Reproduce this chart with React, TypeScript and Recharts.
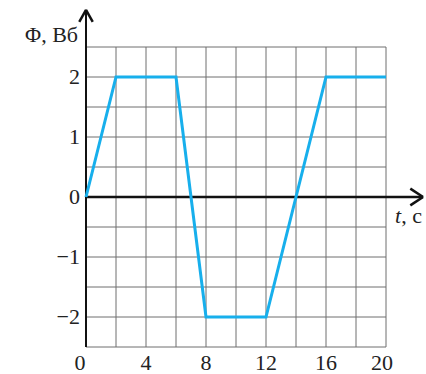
import React from "react";
import { LineChart, Line, XAxis, YAxis, ReferenceLine, ReferenceDot } from "recharts";

const times = [0, 2, 6, 8, 12, 16, 20];
const flux = [0, 2, 2, -2, -2, 2, 2];
const xTicks = [0, 4, 8, 12, 16, 20];
const yTicks = [-2, -1, 0, 1, 2];
const xGrid = [2, 4, 6, 8, 10, 12, 14, 16, 18, 20];
const yGrid = [-2.5, -2, -1.5, -1, -0.5, 0.5, 1, 1.5, 2, 2.5];
const yLabel = "Φ, Вб";
const xLabelT = "t";
const xLabelUnit = ", c";

const data = times.map((t, i) => ({ t, f: flux[i] }));

const FONT = "'Liberation Serif', 'DejaVu Serif', serif";
const GRID = "#6f6f6f";

// axis extents (data units) for arrows
const Y_TOP = 3.12;
const X_END = 22.47;

const XTick = (p: any) => {
  const v = p.payload.value;
  const shift = v === 0 ? -6 : v === 20 ? -4 : 0;
  return (
    <text x={p.x + shift} y={p.y} dy={15} textAnchor="middle" fontFamily={FONT} fontSize={22} fill="#222">
      {v}
    </text>
  );
};

const YTick = (p: any) => {
  const v = p.payload.value;
  const s = v < 0 ? "\u2212" + Math.abs(v) : String(v);
  return (
    <text x={p.x} y={p.y} dy={7} textAnchor="end" fontFamily={FONT} fontSize={22} fill="#222">
      {s}
    </text>
  );
};

export default function App() {
  return (
    <div style={{ position: "absolute", left: 0, top: 0 }}>
      <LineChart width={426} height={374} data={data} margin={{ top: 47, right: 40, bottom: 0, left: 0 }}>
        <XAxis
          dataKey="t"
          type="number"
          domain={[0, 20]}
          ticks={xTicks}
          axisLine={false}
          tickLine={false}
          height={27}
          tick={<XTick />}
          interval={0}
        />
        <YAxis
          type="number"
          domain={[-2.5, 2.5]}
          ticks={yTicks}
          axisLine={false}
          tickLine={false}
          width={86}
          tick={<YTick />}
          interval={0}
          tickMargin={0}
        />
        {xGrid.map((x) => (
          <ReferenceLine key={"vx" + x} x={x} stroke={GRID} strokeWidth={1} />
        ))}
        {yGrid.map((y) => (
          <ReferenceLine key={"hy" + y} y={y} stroke={GRID} strokeWidth={1} />
        ))}
        <ReferenceLine segment={[{ x: 0, y: -2.5 }, { x: 0, y: Y_TOP }]} stroke="#111" strokeWidth={2} ifOverflow="visible" />
        <ReferenceLine segment={[{ x: -0.45, y: Y_TOP - 0.2 }, { x: 0, y: Y_TOP }]} stroke="#111" strokeWidth={2.5} ifOverflow="visible" />
        <ReferenceLine segment={[{ x: 0.45, y: Y_TOP - 0.2 }, { x: 0, y: Y_TOP }]} stroke="#111" strokeWidth={2.5} ifOverflow="visible" />
        <ReferenceLine segment={[{ x: 0, y: 0 }, { x: X_END, y: 0 }]} stroke="#111" strokeWidth={2.5} ifOverflow="visible" />
        <ReferenceLine segment={[{ x: X_END - 0.85, y: 0.14 }, { x: X_END, y: 0 }]} stroke="#111" strokeWidth={2.5} ifOverflow="visible" />
        <ReferenceLine segment={[{ x: X_END - 0.85, y: -0.14 }, { x: X_END, y: 0 }]} stroke="#111" strokeWidth={2.5} ifOverflow="visible" />
        <ReferenceDot
          x={-0.53}
          y={2.58}
          r={0}
          ifOverflow="visible"
          label={(p: any) => (
            <text x={p.viewBox.x} y={p.viewBox.y} textAnchor="end" fontFamily={FONT} fontSize={22} fill="#222">
              {yLabel}
            </text>
          )}
        />
        <ReferenceDot
          x={20.6}
          y={-0.43}
          r={0}
          ifOverflow="visible"
          label={(p: any) => (
            <text x={p.viewBox.x} y={p.viewBox.y} textAnchor="start" fontFamily={FONT} fontSize={22} fill="#222">
              <tspan fontStyle="italic">{xLabelT}</tspan>
              <tspan>{xLabelUnit}</tspan>
            </text>
          )}
        />
        <Line
          type="linear"
          dataKey="f"
          stroke="#17afec"
          strokeWidth={3}
          dot={false}
          isAnimationActive={false}
        />
      </LineChart>
    </div>
  );
}
